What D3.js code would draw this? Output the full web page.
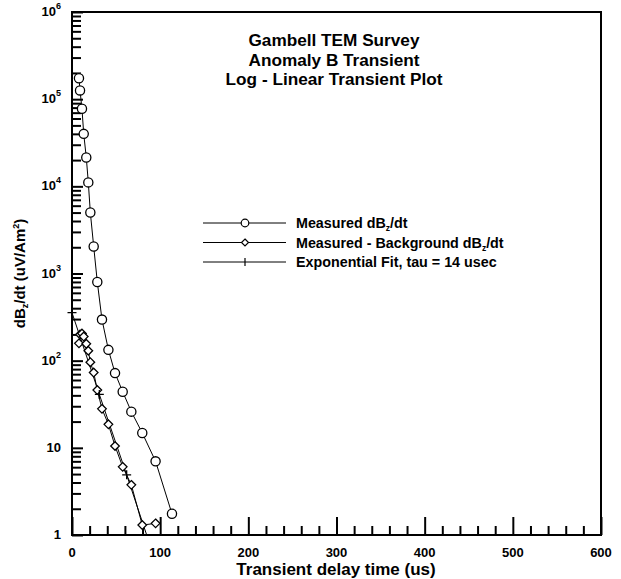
<!DOCTYPE html>
<html><head><meta charset="utf-8">
<script src="https://cdn.jsdelivr.net/npm/d3@7"></script>
<style>
body{margin:0;background:#fff;}
svg text{font-family:"Liberation Sans",Arial,sans-serif;font-weight:bold;fill:#000;}
</style></head>
<body><svg id="c" width="621" height="579"></svg>
<script>
// ---- data ----
const titleLines = ["Gambell TEM Survey","Anomaly B Transient","Log - Linear Transient Plot"];
const measuredT = [7.9, 9.1, 11.3, 13.3, 16.2, 18.5, 20.8, 24.6, 28.7, 34, 41.3, 48.8, 57.5, 67.3, 79.7, 94.8, 113.4];
const measuredV = [174000, 126000, 77600, 40000, 21400, 11100, 5000, 2040, 800, 296, 133, 72, 44, 26, 14.8, 7, 1.75];
const backgroundT = [7.9, 9.1, 11.3, 13.3, 16.2, 18.5, 20.8, 24.6, 28.7, 34, 41.3, 48.8, 57.5, 67.3, 79.7, 94.8];
const backgroundV = [158, 200, 205, 189, 156, 130, 96, 73, 46, 28, 18.6, 10.5, 6.05, 3.76, 1.30, 1.36];
const fitT = [0, 31, 62, 93];
const fitV = [355, 41, 4.9, 0.56];
const xTicks = [0, 100, 200, 300, 400, 500, 600];
const xMinorTicks = [20,40,60,80,120,140,160,180,220,240,260,280,320,340,360,380,420,440,460,480,520,540,560,580];
const yTickExp = [0, 1, 2, 3, 4, 5, 6];
const legendLabels = ["Measured dB|z|/dt", "Measured - Background dB|z|/dt", "Exponential Fit, tau = 14 usec"];

// ---- layout ----
const svg = d3.select("#c");
const L = 72, R = 601, T = 12, B = 535;
const x = d3.scaleLinear().domain([0, 600]).range([L, R]);
const y = d3.scaleLog().domain([1, 1e6]).range([B, T]);

svg.append("defs").append("clipPath").attr("id","clip")
  .append("rect").attr("x",L).attr("y",T).attr("width",R-L).attr("height",B-T);

const yMinor = [];
for (let e = 0; e < 6; e++) for (let m = 2; m <= 9; m++) yMinor.push(m * Math.pow(10, e));

const g = svg.append("g");
function styleAxis(s){ s.select(".domain").remove(); s.selectAll("line").attr("stroke","#000").attr("stroke-width",2); }
g.append("g").attr("transform",`translate(${L},0)`)
  .call(d3.axisLeft(y).tickValues(yMinor).tickSize(-9).tickFormat("")).call(styleAxis);
g.append("g").attr("transform",`translate(${L},0)`)
  .call(d3.axisLeft(y).tickValues(yTickExp.map(e=>Math.pow(10,e))).tickSize(-11).tickFormat("")).call(styleAxis);
g.append("g").attr("transform",`translate(0,${B})`)
  .call(d3.axisBottom(x).tickValues(xMinorTicks).tickSize(-9).tickFormat("")).call(styleAxis);
g.append("g").attr("transform",`translate(0,${B})`)
  .call(d3.axisBottom(x).tickValues(xTicks).tickSize(-18).tickFormat("")).call(styleAxis);

svg.append("rect").attr("x",L).attr("y",T).attr("width",R-L).attr("height",B-T)
  .attr("fill","none").attr("stroke","#000").attr("stroke-width",2);

// tick labels
svg.selectAll(".xl").data(xTicks).enter().append("text")
  .attr("x", d=>x(d)).attr("y", B+22).attr("text-anchor","middle")
  .attr("font-size",13).text(d=>d);
yTickExp.forEach(e=>{
  const t = svg.append("text").attr("x", 61).attr("y", y(Math.pow(10,e)) + 4)
    .attr("text-anchor","end").attr("font-size",13);
  if (e === 0) t.text("1");
  else if (e === 1) t.text("10");
  else { t.append("tspan").text("10"); t.append("tspan").attr("dy",-7).attr("font-size",9).text(e); }
});

// axis titles
svg.append("text").attr("x", 336).attr("y", 575).attr("text-anchor","middle")
  .attr("font-size",17).text("Transient delay time (us)");
const yl = svg.append("text").attr("transform",`translate(25,${(T+B)/2}) rotate(-90)`)
  .attr("text-anchor","middle").attr("font-size",15);
yl.append("tspan").text("dB");
yl.append("tspan").attr("font-size",9).attr("dy",3).text("z");
yl.append("tspan").attr("dy",-3).text("/dt (uV/Am");
yl.append("tspan").attr("font-size",9).attr("dy",-6).text("2");
yl.append("tspan").attr("dy",6).text(")");

// title
svg.selectAll(".title").data(titleLines).enter().append("text")
  .attr("x", 334).attr("y", (d,i)=>46 + i*19.6).attr("text-anchor","middle")
  .attr("font-size",17.2).text(d=>d);

// series
const line = d3.line().x(d=>x(d[0])).y(d=>y(d[1]));
const plot = svg.append("g").attr("clip-path","url(#clip)");
const mData = measuredT.map((t,i)=>[t, measuredV[i]]);
const bData = backgroundT.map((t,i)=>[t, backgroundV[i]]);
const fData = fitT.map((t,i)=>[t, fitV[i]]);

[mData, bData, fData].forEach(dat=>
  plot.append("path").datum(dat).attr("d", line).attr("fill","none").attr("stroke","#000").attr("stroke-width",1));

const ptsLayer = svg.append("g");
mData.forEach(d=>ptsLayer.append("circle").attr("cx",x(d[0])).attr("cy",y(d[1])).attr("r",4.6)
  .attr("fill","#fff").attr("stroke","#000").attr("stroke-width",1.3));
bData.forEach(d=>{ const cx=x(d[0]), cy=y(d[1]);
  ptsLayer.append("path").attr("d",`M${cx},${cy-4.3}L${cx+4.3},${cy}L${cx},${cy+4.3}L${cx-4.3},${cy}Z`)
    .attr("fill","#fff").attr("stroke","#000").attr("stroke-width",1.3); });
fData.filter(d=>d[1]>=1).forEach(d=>{ const cx=x(d[0]), cy=y(d[1]);
  ptsLayer.append("path").attr("d",`M${cx-4.5},${cy}H${cx+4.5}M${cx},${cy-4.5}V${cy+4.5}`)
    .attr("fill","none").attr("stroke","#000").attr("stroke-width",1.3); });

// legend
const legSyms = ["circle","diamond","plus"];
legendLabels.forEach((lab,i)=>{
  const ly = 223 + i*19.5;
  svg.append("line").attr("x1",203).attr("x2",286).attr("y1",ly).attr("y2",ly).attr("stroke","#000").attr("stroke-width",1);
  if (legSyms[i]==="circle") svg.append("circle").attr("cx",245).attr("cy",ly).attr("r",3.8).attr("fill","#fff").attr("stroke","#000").attr("stroke-width",1.2);
  else if (legSyms[i]==="diamond") svg.append("path").attr("d",`M245,${ly-3.5}L248.5,${ly}L245,${ly+3.5}L241.5,${ly}Z`).attr("fill","#fff").attr("stroke","#000").attr("stroke-width",1.2);
  else svg.append("path").attr("d",`M245,${ly-4}V${ly+4}`).attr("stroke","#000").attr("stroke-width",1.2);
  const t = svg.append("text").attr("x",296).attr("y",ly+5).attr("font-size",14.3);
  const parts = lab.split("|");
  t.append("tspan").text(parts[0]);
  if (parts.length>1){
    t.append("tspan").attr("font-size",8.5).attr("dy",3).text(parts[1]);
    t.append("tspan").attr("dy",-3).text(parts[2]);
  }
});
</script></body></html>
